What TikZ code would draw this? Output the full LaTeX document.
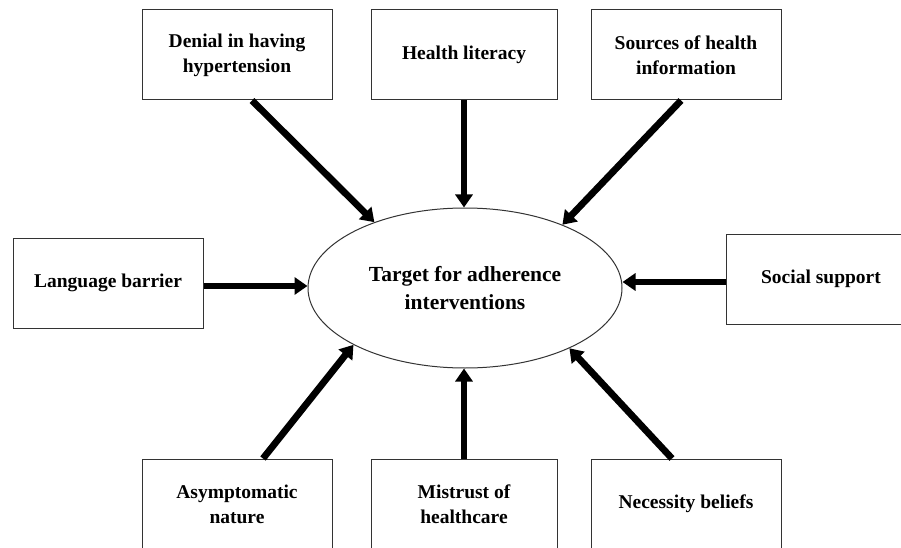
\documentclass[tikz,border=0pt]{standalone}
\usepackage{fontspec}
\setmainfont{Liberation Serif}
\usepackage{xcolor}
\usepackage{tikz}
\usetikzlibrary{calc,arrows.meta,shapes.geometric}
\definecolor{ink}{HTML}{000000}
\definecolor{edge}{HTML}{333333}
\tikzset{
  factor/.style={draw=edge, line width=1pt, fill=white, minimum width=190pt,
    minimum height=90pt, inner sep=0pt, align=center,
    font=\fontsize{19.5}{25}\selectfont\bfseries},
  target/.style={ellipse, draw=edge, line width=1pt, minimum width=314pt,
    minimum height=160pt, inner sep=0pt, align=center,
    font=\fontsize{21.5}{28}\selectfont\bfseries},
  arr/.style={draw=ink, line width=6.8pt, -{Triangle[length=13pt,width=17pt]}}
}

\begin{document}
\begin{tikzpicture}[x=1pt,y=1pt]
  \useasboundingbox (0,0) rectangle (901,547);

  \node[target] (T) at (465,259) {Target for adherence\\interventions};

  \node[factor] (denial) at (237,492) {Denial in having\\hypertension};
  \node[factor, minimum width=186pt] (literacy) at (464,492) {Health literacy};
  \node[factor] (sources) at (686,492) {Sources of health\\information};
  \node[factor] (language) at (108,264) {Language barrier};
  \node[factor] (social) at (821,268) {Social support};
  \node[factor] (asym) at (237,43) {Asymptomatic\\nature};
  \node[factor, minimum width=186pt] (mistrust) at (464,43) {Mistrust of\\healthcare};
  \node[factor] (necessity) at (686,43) {Necessity beliefs};

  \draw[arr] ([xshift=15pt]denial.south) -- (T.144.6);
  \draw[arr] (literacy.south) -- (literacy.south |- T.north);
  \draw[arr] ([xshift=-5pt]sources.south) -- (T.33.6);
  \draw[arr] ([yshift=-3pt]language.east) -- ([yshift=-3pt]language.east -| T.west);
  \draw[arr] ([yshift=-3pt]social.west) -- ([yshift=-3pt]social.west -| T.east);
  \draw[arr] ([xshift=26pt]asym.north) -- (T.207.4);
  \draw[arr] (mistrust.north) -- (mistrust.north |- T.south);
  \draw[arr] ([xshift=-14pt]necessity.north) -- (T.-30);
\end{tikzpicture}
\end{document}
